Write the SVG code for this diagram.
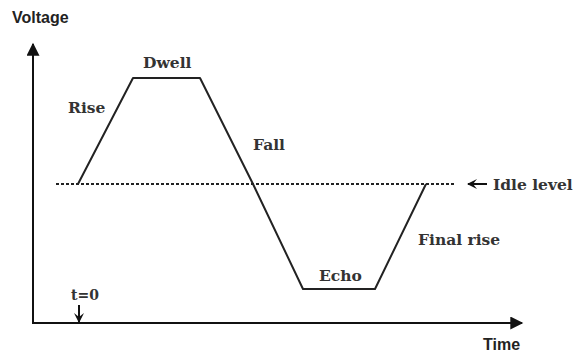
<svg xmlns="http://www.w3.org/2000/svg" width="576" height="354" viewBox="0 0 576 354">
<style>
.ax{stroke:#111;stroke-width:2;fill:none}
.wave{stroke:#222;stroke-width:2;fill:none;stroke-linejoin:round}
.idle{stroke:#222;stroke-width:2;stroke-dasharray:3 2;fill:none}
.sans{font-family:"Liberation Sans",Arial,sans-serif;font-weight:bold;font-size:16px;fill:#222}
.ser{font-family:"DejaVu Serif","Liberation Serif",serif;font-weight:bold;font-size:15.5px;fill:#333}
.arr{stroke:#111;stroke-width:2;fill:none}
</style>
<defs>
<marker id="ah" viewBox="0 0 10 10" refX="9" refY="5" markerWidth="7" markerHeight="6.5" orient="auto" markerUnits="strokeWidth">
<path d="M0,0 L10,5 L0,10 Z" fill="#111"/>
</marker>
<marker id="ah2" viewBox="0 0 10 10" refX="9" refY="5" markerWidth="5" markerHeight="6" orient="auto" markerUnits="strokeWidth">
<path d="M0,0 L10,5 L0,10 L4,5 Z" fill="#111"/>
</marker>
</defs>
<g id="axes">
<path class="ax" d="M33,323 L33,44" marker-end="url(#ah)"/>
<path class="ax" d="M32,323 L522,323" marker-end="url(#ah)"/>
<text class="sans" x="12" y="23">Voltage</text>
<text class="sans" x="483" y="350">Time</text>
</g>
<g id="idle-line">
<path class="idle" d="M56,184 L456,184"/>
</g>
<g id="waveform">
<path class="wave" d="M78,184 L133,78 L200,78 L253,184 L303,289 L375,289 L426,184"/>
</g>
<g id="labels">
<text class="ser" x="68" y="113">Rise</text>
<text class="ser" x="143" y="68">Dwell</text>
<text class="ser" x="253" y="150">Fall</text>
<text class="ser" x="319" y="281">Echo</text>
<text class="ser" x="418" y="245">Final rise</text>
<text class="ser" x="493" y="190">Idle level</text>
<text class="ser" x="71" y="300" style="font-size:14px">t=0</text>
</g>
<g id="connectors">
<path class="arr" d="M487,184 L468,184" marker-end="url(#ah2)"/>
<path class="arr" d="M79,305 L79,322" marker-end="url(#ah2)"/>
</g>
</svg>
